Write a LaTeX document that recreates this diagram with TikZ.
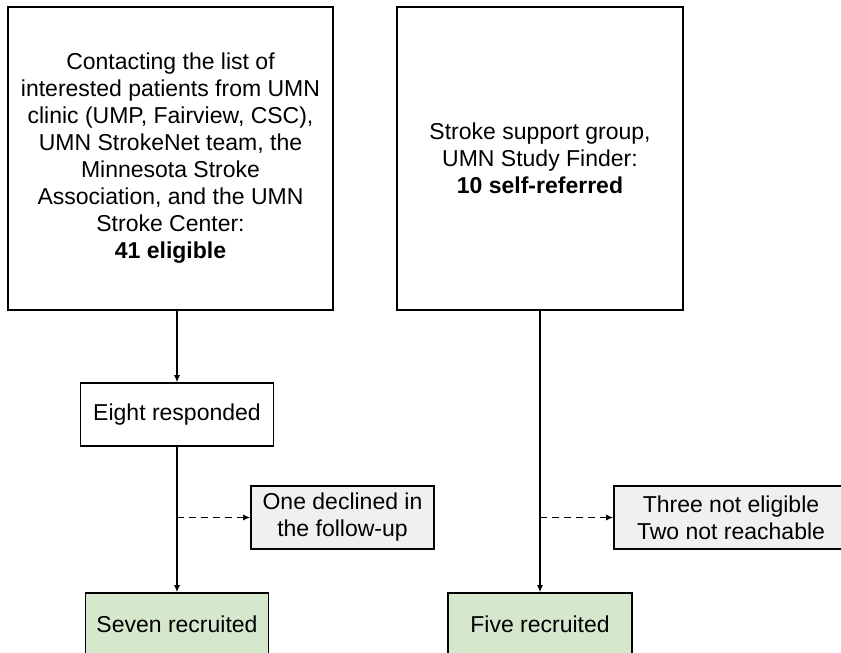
\documentclass[tikz,border=0pt]{standalone}
\usepackage{fontspec}
\setmainfont{Liberation Sans}
\usetikzlibrary{arrows.meta}
\definecolor{recruitgreen}{RGB}{213,232,204}
\definecolor{dropgray}{RGB}{240,240,240}
\begin{document}
\begin{tikzpicture}[x=1pt, y=-1pt,
    box/.style={draw=black, line width=1.6pt, align=center, inner sep=0pt,
                font=\fontsize{23}{27}\selectfont},
    flow/.style={line width=1.2pt, -{Latex[length=7pt,width=6pt]}},
    drop/.style={line width=1.3pt, dash pattern=on 7pt off 5pt, -{Latex[length=7pt,width=6pt]}}]

    \useasboundingbox (0,0) rectangle (841,653);
    \clip (0,0) rectangle (841,653);

    % sources
    \node[box, minimum width=325pt, minimum height=303pt] (clinic) at (170.5,158.5)
        {Contacting the list of\\ interested patients from UMN\\ clinic (UMP, Fairview, CSC),\\
         UMN StrokeNet team, the\\ Minnesota Stroke\\ Association, and the UMN\\
         Stroke Center:\\ \textbf{41 eligible}};
    \node[box, minimum width=286pt, minimum height=303pt] (selfref) at (540,158.5)
        {Stroke support group,\\ UMN Study Finder:\\ \textbf{10 self-referred}};

    % left branch
    \node[box, minimum width=193pt, minimum height=63pt] (responded) at (177,414.5) {Eight responded};
    \node[box, fill=dropgray, minimum width=183pt, minimum height=63pt] (declined) at (342.5,517.5)
        {One declined in\\ the follow-up};
    \node[box, fill=recruitgreen, minimum width=183pt, minimum height=63pt] (seven) at (177,624.5) {Seven recruited};

    % right branch
    \node[box, fill=dropgray, minimum width=234pt, minimum height=63pt] (noteligible) at (731,517.5)
        {Three not eligible\\ Two not reachable};
    \node[box, fill=recruitgreen, minimum width=184pt, minimum height=63pt] (five) at (540,624.5) {Five recruited};

    \draw[flow] (responded.north |- clinic.south) -- (responded.north);
    \draw[flow] (responded) -- (seven);
    \draw[drop] (responded.south |- declined.west) -- (declined.west);

    \draw[flow] (selfref) -- (five);
    \draw[drop] (five.north |- noteligible.west) -- (noteligible.west);

\end{tikzpicture}
\end{document}
